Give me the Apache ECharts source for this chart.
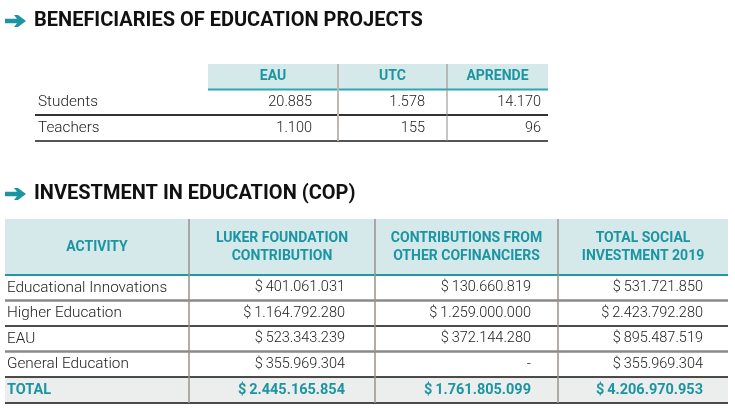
<!DOCTYPE html>
<html>
<head>
<meta charset="utf-8">
<script src="https://cdn.jsdelivr.net/npm/echarts@6/dist/echarts.min.js"></script>
<style>
html, body { margin: 0; padding: 0; background: #fff; }
#chart { width: 735px; height: 419px; }
</style>
</head>
<body>
<div id="chart"></div>
<script>
// ---- data ----
var beneficiaryTitle = 'BENEFICIARIES OF EDUCATION PROJECTS';
var beneficiaryColumns = ['EAU', 'UTC', 'APRENDE'];
var beneficiaryRows = ['Students', 'Teachers'];
var studentsValues = [20885, 1578, 14170];
var teachersValues = [1100, 155, 96];

var investmentTitle = 'INVESTMENT IN EDUCATION (COP)';
var investmentHeaders = ['ACTIVITY', 'LUKER FOUNDATION\nCONTRIBUTION', 'CONTRIBUTIONS FROM\nOTHER COFINANCIERS', 'TOTAL SOCIAL\nINVESTMENT 2019'];
var activities = ['Educational Innovations', 'Higher Education', 'EAU', 'General Education'];
var lukerValues = [401061031, 1164792280, 523343239, 355969304];
var cofinancierValues = [130660819, 1259000000, 372144280, null];
var totalInvestmentValues = [531721850, 2423792280, 895487519, 355969304];
var totalLabel = 'TOTAL';
var totalRowValues = [2445165854, 1761805099, 4206970953];

// ---- layout (units of the hidden page axes) ----
var t1 = { colEdges: [208, 338, 447, 548], lineLeft: 35, labelX: 38, valueRight: [312, 425, 541], rowEdges: [64, 89.5, 115, 141] };
var t2 = { colEdges: [5, 189, 375, 558, 728], labelX: 7, valueRight: [345, 531, 703], rowEdges: [219, 275, 300.5, 326, 351.5, 377, 403] };

var TEAL = '#1b95a1';
var HEAD_BG = '#d5e8ea';
var TOTAL_BG = '#eceeed';
var BODY_FONT = 'Roboto, "Noto Sans", sans-serif';

function fmt(v) {
    return String(v).replace(/\B(?=(\d{3})+(?!\d))/g, '.');
}
function money(v) {
    return v == null ? '-' : '$\u2009' + fmt(v);
}

var cells = [];
var rules = [];

function addCell(x0, y0, x1, y1, tx, text, kind, align) {
    cells.push({ x0: x0, y0: y0, x1: x1, y1: y1, tx: tx, text: text, kind: kind, align: align });
}

// table 1
beneficiaryColumns.forEach(function(name, i) {
    var x0 = t1.colEdges[i], x1 = t1.colEdges[i + 1];
    addCell(x0, t1.rowEdges[0], x1, t1.rowEdges[1], (x0 + x1) / 2, name, 'head', 'center');
});
[studentsValues, teachersValues].forEach(function(values, r) {
    var y0 = t1.rowEdges[r + 1], y1 = t1.rowEdges[r + 2];
    addCell(t1.lineLeft, y0, t1.colEdges[0], y1, t1.labelX, beneficiaryRows[r], 'label', 'left');
    values.forEach(function(v, i) {
        addCell(t1.colEdges[i], y0, t1.colEdges[i + 1], y1, t1.valueRight[i], fmt(v), 'num', 'right');
    });
});

// table 2
investmentHeaders.forEach(function(name, i) {
    var x0 = t2.colEdges[i], x1 = t2.colEdges[i + 1];
    addCell(x0, t2.rowEdges[0], x1, t2.rowEdges[1], (x0 + x1) / 2, name, 'head', 'center');
});
activities.forEach(function(name, r) {
    var y0 = t2.rowEdges[r + 1], y1 = t2.rowEdges[r + 2];
    addCell(t2.colEdges[0], y0, t2.colEdges[1], y1, t2.labelX, name, 'label', 'left');
    [lukerValues[r], cofinancierValues[r], totalInvestmentValues[r]].forEach(function(v, i) {
        addCell(t2.colEdges[i + 1], y0, t2.colEdges[i + 2], y1, t2.valueRight[i], money(v), 'num', 'right');
    });
});
(function() {
    var y0 = t2.rowEdges[5], y1 = t2.rowEdges[6];
    addCell(t2.colEdges[0], y0, t2.colEdges[1], y1, t2.labelX, totalLabel, 'total', 'left');
    totalRowValues.forEach(function(v, i) {
        addCell(t2.colEdges[i + 1], y0, t2.colEdges[i + 2], y1, t2.valueRight[i], money(v), 'total', 'right');
    });
})();

// rules: [x0, y0, x1, y1, color, width]
rules.push([t1.colEdges[0], t1.rowEdges[1], t1.colEdges[3], t1.rowEdges[1], '#2aa9b4', 2]);
rules.push([t1.lineLeft, t1.rowEdges[2], t1.colEdges[3], t1.rowEdges[2], '#333', 2]);
rules.push([t1.lineLeft, t1.rowEdges[3], t1.colEdges[3], t1.rowEdges[3], '#555', 2]);
rules.push([t1.colEdges[1], t1.rowEdges[0], t1.colEdges[1], t1.rowEdges[3], '#bdb8b3', 2]);
rules.push([t1.colEdges[2], t1.rowEdges[0], t1.colEdges[2], t1.rowEdges[3], '#8f8a85', 1]);

rules.push([t2.colEdges[0], t2.rowEdges[1], t2.colEdges[4], t2.rowEdges[1], '#1f9aa5', 2]);
rules.push([t2.colEdges[0], t2.rowEdges[2], t2.colEdges[4], t2.rowEdges[2], '#8a8a8a', 2.5]);
rules.push([t2.colEdges[0], t2.rowEdges[3], t2.colEdges[4], t2.rowEdges[3], '#111', 1.5]);
rules.push([t2.colEdges[0], t2.rowEdges[4], t2.colEdges[4], t2.rowEdges[4], '#8a8a8a', 2.5]);
rules.push([t2.colEdges[0], t2.rowEdges[5], t2.colEdges[4], t2.rowEdges[5], '#111', 1.5]);
rules.push([t2.colEdges[0], t2.rowEdges[6], t2.colEdges[4], t2.rowEdges[6], '#111', 1.5]);
[1, 2, 3].forEach(function(i) {
    rules.push([t2.colEdges[i], t2.rowEdges[0], t2.colEdges[i], t2.rowEdges[6], '#98928d', 1.5]);
});

function cellStyle(kind) {
    if (kind === 'head') {
        return { fill: TEAL, fontWeight: 'bold', fontSize: 14, bg: HEAD_BG, lineHeight: 18 };
    }
    if (kind === 'total') {
        return { fill: TEAL, fontWeight: 'bold', fontSize: 14.5, bg: TOTAL_BG };
    }
    if (kind === 'label') {
        return { fill: '#222', fontWeight: 300, fontSize: 15.3, bg: null };
    }
    return { fill: '#222', fontWeight: 300, fontSize: 14.5, bg: null };
}

function renderCell(params, api) {
    var d = cells[params.dataIndex];
    var p0 = api.coord([d.x0, d.y0]);
    var p1 = api.coord([d.x1, d.y1]);
    var tx = api.coord([d.tx, d.y0])[0];
    var s = cellStyle(d.kind);
    var children = [];
    if (s.bg) {
        children.push({
            type: 'rect',
            shape: { x: p0[0], y: p0[1], width: p1[0] - p0[0], height: p1[1] - p0[1] },
            style: { fill: s.bg }
        });
    }
    children.push({
        type: 'text',
        style: {
            text: d.text, x: tx, y: (p0[1] + p1[1]) / 2,
            align: d.align, verticalAlign: 'middle',
            fill: s.fill, fontFamily: BODY_FONT, fontWeight: s.fontWeight,
            fontSize: s.fontSize, lineHeight: s.lineHeight
        }
    });
    return { type: 'group', children: children };
}

function renderRule(params, api) {
    var r = rules[params.dataIndex];
    var a = api.coord([r[0], r[1]]);
    var b = api.coord([r[2], r[3]]);
    return {
        type: 'line',
        shape: { x1: a[0], y1: a[1], x2: b[0], y2: b[1] },
        style: { stroke: r[4], lineWidth: r[5] }
    };
}

function arrow(cy) {
    return {
        type: 'polygon',
        shape: { points: [[5, cy - 2.2], [17, cy - 2.2], [14, cy - 6], [18, cy - 6], [26, cy], [18, cy + 6], [14, cy + 6], [17, cy + 2.2], [5, cy + 2.2]] },
        style: { fill: TEAL }
    };
}
function heading(text, cy) {
    return {
        type: 'text',
        style: { text: text, x: 34, y: cy, verticalAlign: 'middle', fill: '#111', fontFamily: BODY_FONT, fontWeight: 'bold', fontSize: 20 }
    };
}

var chart = echarts.init(document.getElementById('chart'));
chart.setOption({
    animation: false,
    grid: { left: 0, right: 0, top: 0, bottom: 0 },
    xAxis: { type: 'value', min: 0, max: 735, show: false },
    yAxis: { type: 'value', min: 0, max: 419, inverse: true, show: false },
    graphic: [arrow(21), heading(beneficiaryTitle, 21), arrow(194), heading(investmentTitle, 194)],
    series: [{
        type: 'custom',
        silent: true,
        clip: false,
        renderItem: renderCell,
        data: cells.map(function(c) { return [c.x0, c.y0, c.x1, c.y1]; }),
        z: 1
    }, {
        type: 'custom',
        silent: true,
        clip: false,
        renderItem: renderRule,
        data: rules.map(function(r) { return [r[0], r[1], r[2], r[3]]; }),
        z: 2
    }]
});
</script>
</body>
</html>
